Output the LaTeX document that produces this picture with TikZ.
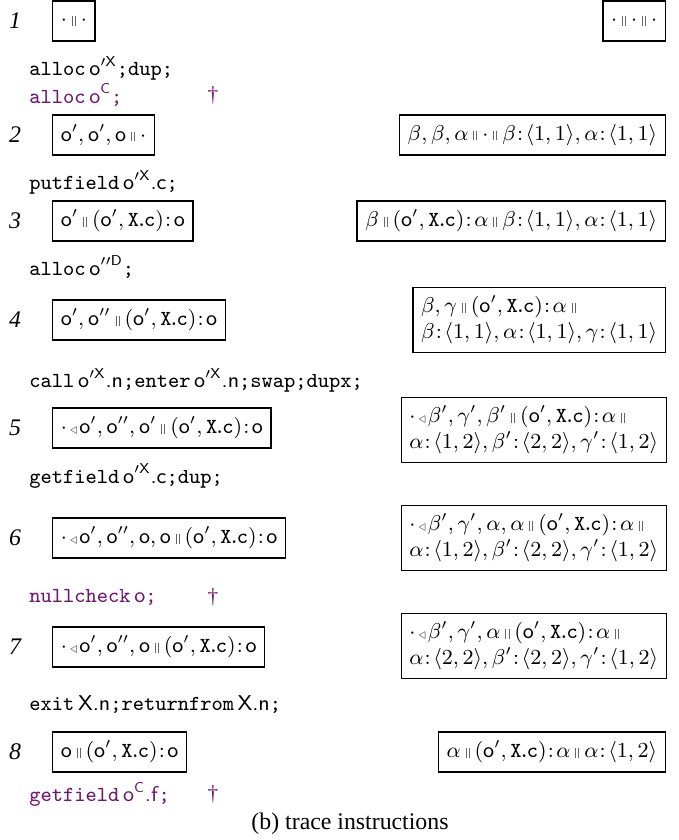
\documentclass[tikz,border=0pt]{standalone}
\usepackage{fontspec}
\setmainfont{Liberation Serif}
\usepackage{amsmath}
\usetikzlibrary{positioning}

\definecolor{badpurple}{RGB}{112,22,112}
\definecolor{sepgray}{gray}{0.4}
\newcommand{\ob}{\mathsf{o}}
\newcommand{\emp}{{\cdot}}
\newcommand{\sepb}{\mkern4mu\mbox{\textcolor{sepgray}{\rule{0.4pt}{4pt}\hspace{0.9pt}\rule{0.4pt}{4pt}}}\mkern4mu}
\newcommand{\tri}{\mkern2mu{\textcolor{sepgray}{\scriptscriptstyle\triangleleft}}\mkern1mu}
\newcommand{\fc}{(\ob',\texttt{X\kern-1.3pt.\kern-1.3pt c})}
\newcommand{\hs}{\mkern1mu{:}\mkern2mu}
\newcommand{\cls}[1]{\textsf{#1}}

\begin{document}
\begin{tikzpicture}[x=0.42pt, y=-0.42pt,
  stk/.style={draw, line width=0.6pt, anchor=west, inner sep=3.4pt, minimum height=16.8pt,
    font=\fontsize{9}{11}\selectfont},
  hp/.style={stk, anchor=east, align=left},
  instr/.style={anchor=west, inner sep=0pt, font=\fontsize{9}{11}\selectfont},
  bad/.style={instr, text=badpurple},
  num/.style={font=\itshape, inner sep=0pt}]
\useasboundingbox (0,0) rectangle (679,840);
% state 1
\node [num] (n1) at (15,21) {1};
\node [stk] (s1) at (52,21) {$\emp\sepb\emp$};
\node [hp]  (h1) at (666,21) {$\emp\sepb\emp\sepb\emp$};
\node [instr] (i1) at (29,68) {\texttt{alloc}\,$\ob'^{\cls{X}}$\texttt{;dup;}};
\node [bad] (b1) at (29,95) {\texttt{alloc}\,$\ob^{\cls{C}}$\texttt{;}};
\node [bad, anchor=center] (d1) at (213,95) {\dag};
% state 2
\node [num] (n2) at (15,135) {2};
\node [stk] (s2) at (52,135) {$\ob',\ob',\ob\sepb\emp$};
\node [hp]  (h2) at (666,135) {$\beta,\beta,\alpha\sepb\emp\sepb\beta\hs\langle1,1\rangle,\alpha\hs\langle1,1\rangle$};
\node [instr] (i2) at (29,182) {\texttt{putfield}\,$\ob'^{\cls{X}}$\cls{.c}\texttt{;}};
% state 3
\node [num] (n3) at (15,221) {3};
\node [stk] (s3) at (52,221) {$\ob'\sepb\fc\hs\ob$};
\node [hp]  (h3) at (666,221) {$\beta\sepb\fc\hs\alpha\sepb\beta\hs\langle1,1\rangle,\alpha\hs\langle1,1\rangle$};
\node [instr] (i3) at (29,267) {\texttt{alloc}\,$\ob''^{\cls{D}}$\texttt{;}};
% state 4
\node [num] (n4) at (15,320) {4};
\node [stk] (s4) at (52,320) {$\ob',\ob''\sepb\fc\hs\ob$};
\node [hp]  (h4) at (666,320) {$\beta,\gamma\sepb\fc\hs\alpha\sepb$\\$\beta\hs\langle1,1\rangle,\alpha\hs\langle1,1\rangle,\gamma\hs\langle1,1\rangle$};
\node [instr] (i4) at (29,380) {\texttt{call}\,$\ob'^{\cls{X}}$\cls{.n}\texttt{;enter}\,$\ob'^{\cls{X}}$\cls{.n}\texttt{;swap;dupx;}};
% state 5
\node [num] (n5) at (15,428) {5};
\node [stk] (s5) at (52,428) {$\emp\tri\ob',\ob'',\ob'\sepb\fc\hs\ob$};
\node [hp]  (h5) at (667,430) {$\emp\tri\beta',\gamma',\beta'\sepb\fc\hs\alpha\sepb$\\$\alpha\hs\langle1,2\rangle,\beta'\hs\langle2,2\rangle,\gamma'\hs\langle1,2\rangle$};
\node [instr] (i5) at (29,476) {\texttt{getfield}\,$\ob'^{\cls{X}}$\cls{.c}\texttt{;dup;}};
% state 6
\node [num] (n6) at (15,538) {6};
\node [stk] (s6) at (52,538) {$\emp\tri\ob',\ob'',\ob,\ob\sepb\fc\hs\ob$};
\node [hp]  (h6) at (667,538) {$\emp\tri\beta',\gamma',\alpha,\alpha\sepb\fc\hs\alpha\sepb$\\$\alpha\hs\langle1,2\rangle,\beta'\hs\langle2,2\rangle,\gamma'\hs\langle1,2\rangle$};
\node [bad] (b6) at (29,597) {\texttt{nullcheck}\,$\ob$\texttt{;}};
\node [bad, anchor=center] (d6) at (213,597) {\dag};
% state 7
\node [num] (n7) at (15,647) {7};
\node [stk] (s7) at (52,647) {$\emp\tri\ob',\ob'',\ob\sepb\fc\hs\ob$};
\node [hp]  (h7) at (667,646) {$\emp\tri\beta',\gamma',\alpha\sepb\fc\hs\alpha\sepb$\\$\alpha\hs\langle2,2\rangle,\beta'\hs\langle2,2\rangle,\gamma'\hs\langle1,2\rangle$};
\node [instr] (i7) at (29,705) {\texttt{exit}\,\cls{X.n}\texttt{;returnfrom}\,\cls{X.n}\texttt{;}};
% state 8
\node [num] (n8) at (15,752) {8};
\node [stk] (s8) at (52,752) {$\ob\sepb\fc\hs\ob$};
\node [hp]  (h8) at (666,752) {$\alpha\sepb\fc\hs\alpha\sepb\alpha\hs\langle1,2\rangle$};
\node [bad] (b8) at (29,794) {\texttt{getfield}\,$\ob^{\cls{C}}$\cls{.f}\texttt{;}};
\node [bad, anchor=center] (d8) at (213,794) {\dag};
% caption
\node [inner sep=0pt] (cap) at (350,824) {(b) trace instructions};
\end{tikzpicture}
\end{document}
